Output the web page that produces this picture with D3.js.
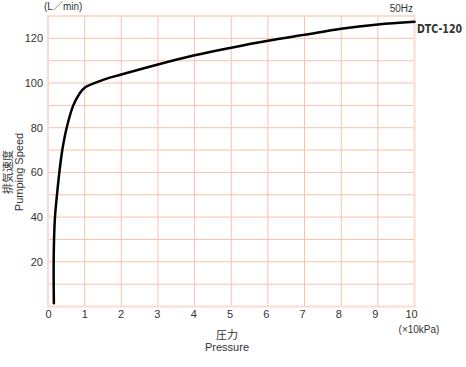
<!DOCTYPE html>
<html>
<head>
<meta charset="utf-8">
<script src="https://cdn.jsdelivr.net/npm/d3@7"></script>
<style>
  body { margin: 0; background: #fff; }
  text { font-family: "Liberation Sans", Arial, "Noto Sans CJK JP", sans-serif; fill: #333; }
  .cjk { font-family: "Noto Sans CJK JP", sans-serif; }
</style>
</head>
<body>
<div id="chart"></div>
<script>
// pressure (x10kPa) vs pumping speed (L/min)
var pressure = [0.16, 0.155, 0.155, 0.165, 0.19, 0.245, 0.31, 0.39, 0.51, 0.69, 0.85, 1.0, 1.5, 2, 3, 4, 5, 6, 7, 8, 9, 10];
var speed    = [1.5, 10, 20, 30, 40, 50, 60, 70, 80, 90, 95, 97.9, 101.4, 103.8, 108.3, 112.4, 115.8, 118.9, 121.6, 124.3, 126.2, 127.4];

var xTicks = [0, 1, 2, 3, 4, 5, 6, 7, 8, 9, 10];
var yTicks = [20, 40, 60, 80, 100, 120];
var yGrid = d3.range(0, 131, 10);

var W = 466, H = 367;
var mLeft = 48, mRight = 414.5, mTop = 16, mBottom = 306.5;

var svg = d3.select("#chart").append("svg")
    .attr("width", W)
    .attr("height", H);

var x = d3.scaleLinear().domain([0, 10]).range([mLeft, mRight]);
var y = d3.scaleLinear().domain([0, 130]).range([mBottom, mTop]);
// labels under the x axis drift a little to the left in the original
var xLab = d3.scaleLinear().domain([0, 10]).range([mLeft, 411]);

// grid
svg.append("g")
  .selectAll("line")
  .data(xTicks.slice(1, -1))
  .enter().append("line")
    .attr("x1", d => x(d)).attr("x2", d => x(d))
    .attr("y1", mTop).attr("y2", mBottom)
    .attr("stroke", "#f8c2aa").attr("stroke-width", 1);

svg.append("g")
  .selectAll("line")
  .data(yGrid.slice(1, -1))
  .enter().append("line")
    .attr("x1", mLeft).attr("x2", mRight)
    .attr("y1", d => y(d)).attr("y2", d => y(d))
    .attr("stroke", "#f8c2aa").attr("stroke-width", 1);

// frame
svg.append("rect")
    .attr("x", mLeft).attr("y", mTop)
    .attr("width", mRight - mLeft).attr("height", mBottom - mTop)
    .attr("fill", "none")
    .attr("stroke", "#fcdcd0").attr("stroke-width", 2);

// y axis
var yAxis = svg.append("g")
    .attr("transform", "translate(" + (mLeft - 5) + ",0)")
    .call(d3.axisLeft(y).tickValues(yTicks).tickSize(0).tickPadding(0));
yAxis.select(".domain").remove();
yAxis.selectAll("text").style("font-size", "11px").attr("fill", "#333");

// x axis
var xAxis = svg.append("g")
    .attr("transform", "translate(0," + (mBottom + 4) + ")")
    .call(d3.axisBottom(xLab).tickValues(xTicks).tickSize(0).tickPadding(0));
xAxis.select(".domain").remove();
xAxis.selectAll("text").style("font-size", "11px").attr("fill", "#333");

// curve
var pts = pressure.map((p, i) => [p, speed[i]]);
var line = d3.line()
    .x(d => x(d[0]))
    .y(d => y(d[1]))
    .curve(d3.curveCatmullRom.alpha(0.5));

svg.append("path")
    .datum(pts)
    .attr("d", line)
    .attr("fill", "none")
    .attr("stroke", "#000")
    .attr("stroke-width", 2.5)
    .attr("stroke-linecap", "round");

// labels
svg.append("text")
    .attr("x", 44).attr("y", 10)
    .style("font-size", "10px")
    .text("(L／min)");

svg.append("text")
    .attr("x", 413).attr("y", 12)
    .attr("text-anchor", "end")
    .style("font-size", "10px")
    .text("50Hz");

svg.append("text")
    .attr("x", 417).attr("y", 33)
    .style("font-family", "'DejaVu Sans Condensed', 'Liberation Sans', sans-serif")
    .style("font-weight", "bold")
    .style("font-size", "12px")
    .attr("textLength", 45)
    .attr("lengthAdjust", "spacingAndGlyphs")
    .attr("fill", "#000")
    .text("DTC-120");

svg.append("text")
    .attr("x", 419).attr("y", 333)
    .attr("text-anchor", "middle")
    .style("font-size", "10px")
    .text("(×10kPa)");

svg.append("text")
    .attr("class", "cjk")
    .attr("x", 227).attr("y", 339)
    .attr("text-anchor", "middle")
    .style("font-size", "11px")
    .text("圧力");

svg.append("text")
    .attr("x", 227).attr("y", 351)
    .attr("text-anchor", "middle")
    .style("font-size", "11px")
    .text("Pressure");

svg.append("text")
    .attr("class", "cjk")
    .attr("transform", "translate(12,172) rotate(-90)")
    .attr("text-anchor", "middle")
    .style("font-size", "11px")
    .text("排気速度");

svg.append("text")
    .attr("transform", "translate(23,172) rotate(-90)")
    .attr("text-anchor", "middle")
    .style("font-size", "11px")
    .text("Pumping Speed");
</script>
</body>
</html>
